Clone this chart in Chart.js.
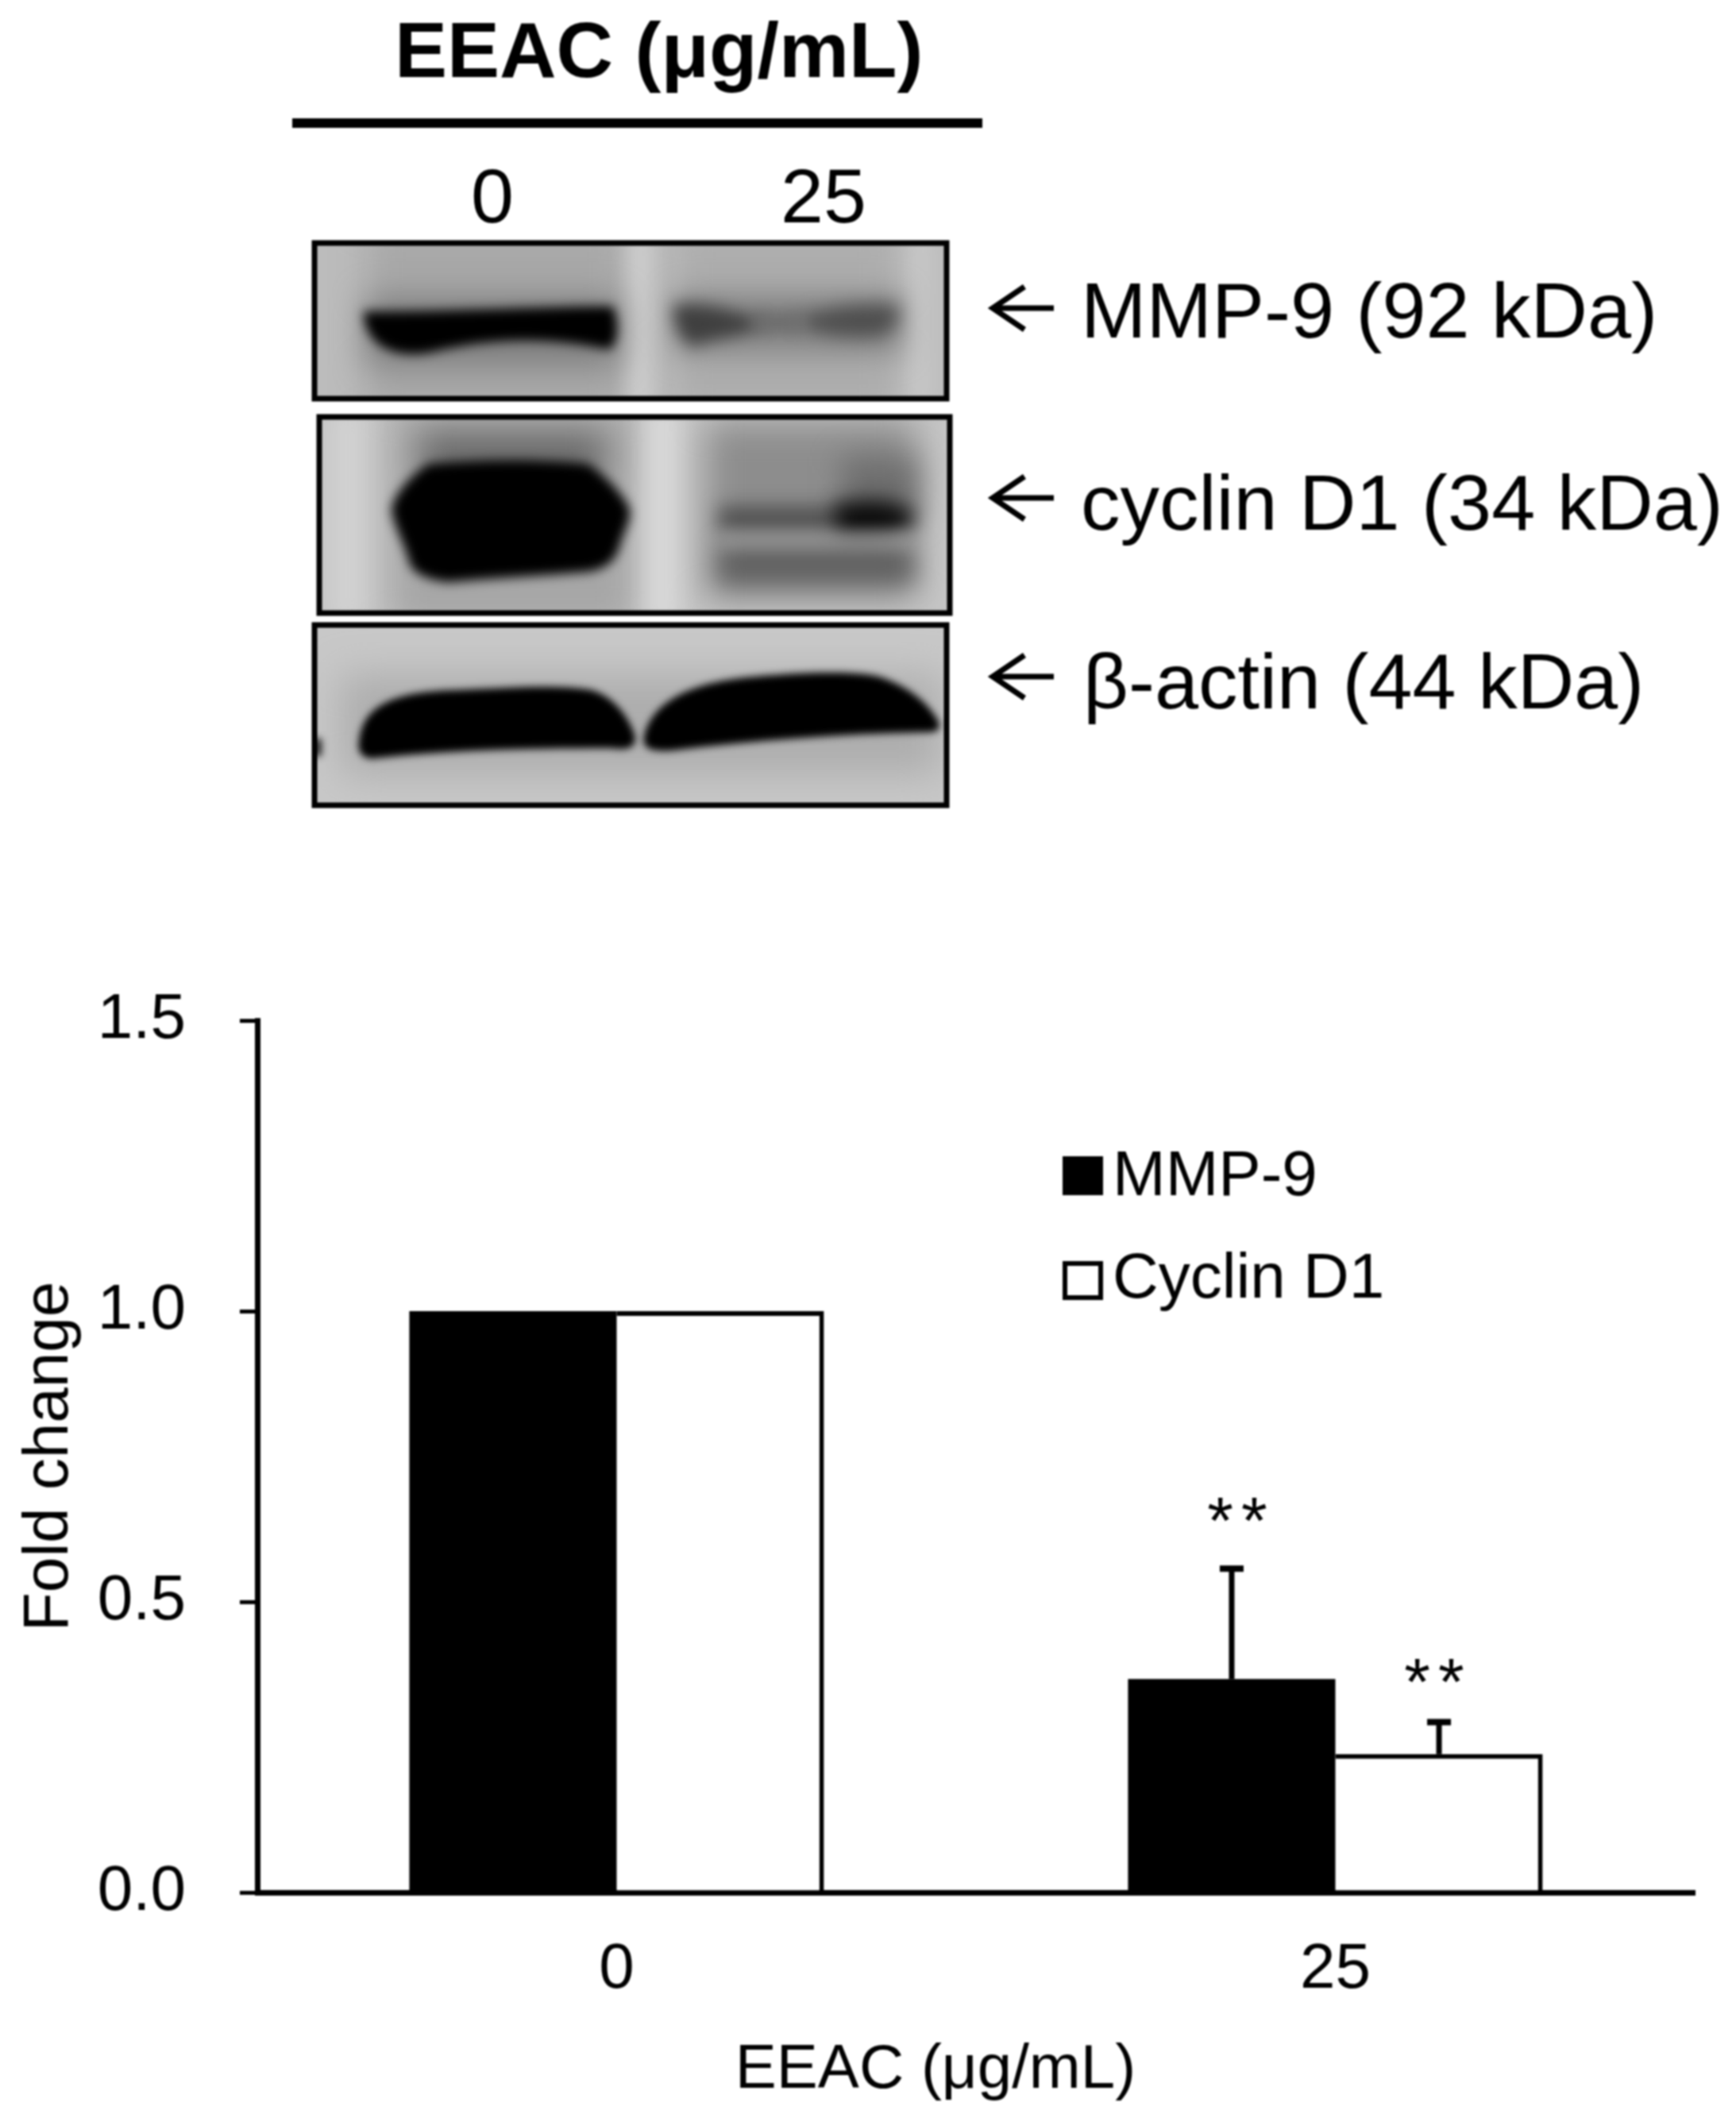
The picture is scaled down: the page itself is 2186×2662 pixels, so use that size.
<!DOCTYPE html>
<html>
<head>
<meta charset="utf-8">
<title>EEAC fold change</title>
<script src="https://cdn.jsdelivr.net/npm/chart.js@4"></script>
<style>
  html, body { margin: 0; padding: 0; background: #fff; }
  body { position: relative; width: 2186px; height: 2662px; overflow: hidden; font-family: "Liberation Sans", Arial, sans-serif; color: #000; filter: blur(0.8px); }
  canvas { position: absolute; left: 0; display: block; }
  #blot { top: 0; }
  #chartBox { position: absolute; left: 0; top: 1200px; width: 2186px; height: 1462px; }
  .lbl { position: absolute; line-height: 1; white-space: nowrap; }
  .title { font-size: 99px; font-weight: bold; left: 497px; top: 13px; }
  .dose { font-size: 97px; top: 198px; transform: translateX(-50%); }
  .prot { font-size: 99px; left: 1361px; }
</style>
</head>
<body>
<canvas id="blot" width="2186" height="1100"></canvas>
<div class="lbl title">EEAC (μg/mL)</div>
<div class="lbl dose" style="left:620px">0</div>
<div class="lbl dose" style="left:1037px">25</div>
<div class="lbl prot" style="top:341px">MMP-9 (92 kDa)</div>
<div class="lbl prot" style="top:583px">cyclin D1 (34 kDa)</div>
<div class="lbl prot" style="top:808px;left:1364px">β-actin (44 kDa)</div>
<div id="chartBox"><canvas id="foldChart" width="2186" height="1462"></canvas></div>

<script>
// chart values
var categories = ['0', '25'];
var mmpValues = [1.0, 0.367];
var cyclinValues = [1.0, 0.238];
var mmpErrors = [0, 0.19];
var cyclinErrors = [0, 0.055];
var yTickLabels = ['0.0', '0.5', '1.0', '1.5'];
var seriesNames = ['MMP-9', 'Cyclin D1'];
var xAxisTitle = 'EEAC (μg/mL)';
var yAxisTitle = 'Fold change';
var sigMark = '**';

/* ---------- Western blot panels (picture only, no data) ---------- */
function drawBlot() {
  var c = document.getElementById('blot').getContext('2d');

  function blob(blur, color, pts) {
    c.save();
    c.filter = 'blur(' + blur + 'px)';
    c.fillStyle = color;
    c.beginPath();
    c.moveTo(pts[0][0], pts[0][1]);
    for (var i = 1; i < pts.length; i++) {
      var p = pts[i];
      if (p.length === 6) c.bezierCurveTo(p[0], p[1], p[2], p[3], p[4], p[5]);
      else c.lineTo(p[0], p[1]);
    }
    c.closePath();
    c.fill();
    c.restore();
  }
  function rect(blur, color, x, y, w, h) {
    blob(blur, color, [[x, y], [x + w, y], [x + w, y + h], [x, y + h]]);
  }
  function panel(x0, y0, x1, y1, paint) {
    c.save();
    c.beginPath();
    c.rect(x0, y0, x1 - x0, y1 - y0);
    c.clip();
    paint();
    c.restore();
    c.strokeStyle = '#000';
    c.lineWidth = 7;
    c.strokeRect(x0 + 3, y0 + 3, x1 - x0 - 6, y1 - y0 - 6);
  }

  // MMP-9
  panel(393, 303, 1195, 505, function () {
    rect(0, '#bcbcbc', 393, 303, 802, 202);
    rect(22, '#a8a8a8', 460, 280, 330, 250);
    rect(22, '#adadad', 850, 280, 280, 250);
    rect(12, '#cfcfcf', 792, 290, 28, 230);
    rect(14, '#c8c8c8', 1145, 290, 30, 230);
    rect(20, '#7e7e7e', 462, 375, 318, 85);
    rect(18, '#858585', 850, 370, 285, 75);
    blob(7, '#000', [[458, 392], [540, 394, 680, 386, 772, 386], [780, 410, 778, 430, 768, 440],
      [690, 424, 620, 424, 540, 444], [490, 452, 458, 430, 458, 392]]);
    blob(10, '#3f3f3f', [[848, 384], [900, 380, 930, 396, 965, 404], [950, 424, 900, 424, 872, 436], [855, 425, 848, 410, 848, 384]]);
    blob(11, '#4e4e4e', [[1000, 402], [1060, 380, 1100, 384, 1130, 384], [1134, 412, 1122, 424, 1090, 424], [1050, 424, 1020, 420, 1000, 402]]);
    rect(10, '#6a6a6a', 950, 394, 60, 24);
  });

  // cyclin D1
  panel(399, 522, 1199, 775, function () {
    rect(0, '#c6c6c6', 399, 522, 800, 253);
    rect(22, '#a6a6a6', 490, 510, 310, 280);
    rect(14, '#d8d8d8', 812, 510, 46, 280);
    rect(16, '#d4d4d4', 420, 510, 36, 280);
    rect(22, '#8d8d8d', 888, 530, 265, 225);
    rect(20, '#6a6a6a', 530, 545, 230, 60);
    rect(18, '#6e6e6e', 1060, 575, 95, 80);
    blob(7, '#000', [[540, 584], [610, 578, 680, 578, 740, 584], [765, 600, 790, 630, 793, 642],
      [795, 655, 785, 670, 781, 685], [776, 705, 765, 716, 740, 720], [680, 725, 620, 728, 564, 733],
      [535, 730, 520, 720, 516, 710], [512, 690, 495, 660, 493, 642], [495, 625, 515, 600, 540, 584]]);
    rect(12, '#4e4e4e', 905, 638, 165, 30);
    blob(12, '#0c0c0c', [[1050, 636], [1100, 622, 1145, 632, 1152, 650], [1152, 670, 1120, 678, 1055, 672]]);
    rect(15, '#5f5f5f', 905, 690, 245, 44);
    rect(10, '#a0a0a0', 905, 674, 245, 10);
  });

  // beta-actin
  panel(393, 784, 1195, 1017, function () {
    rect(0, '#c8c8c8', 393, 784, 802, 233);
    rect(24, '#adadad', 430, 850, 755, 125);
    blob(5, '#000', [[452, 935], [456, 892, 488, 871, 575, 869], [650, 866, 700, 862, 745, 869],
      [775, 878, 792, 905, 799, 925], [803, 942, 790, 945, 770, 942], [650, 942, 560, 945, 469, 955],
      [455, 955, 450, 945, 452, 935]]);
    blob(5, '#000', [[811, 928], [818, 895, 850, 860, 952, 852], [1020, 846, 1090, 844, 1115, 855],
      [1150, 868, 1172, 890, 1182, 909], [1186, 922, 1175, 922, 1164, 922], [1060, 924, 950, 932, 846, 945],
      [820, 947, 808, 942, 811, 928]]);
    rect(5, '#222', 393, 930, 12, 22);
  });

  // heading rule
  c.fillStyle = '#000';
  c.fillRect(368, 149, 869, 12);

  // arrows beside the panels
  [388, 627, 852].forEach(function (y) {
    c.strokeStyle = '#000';
    c.lineWidth = 7;
    c.beginPath();
    c.moveTo(1327, y);
    c.lineTo(1250, y);
    c.moveTo(1290, y - 27);
    c.lineTo(1250, y);
    c.lineTo(1290, y + 27);
    c.stroke();
  });
}
drawBlot();

/* ---------- Error bars, stars, legend and x title ---------- */
var chartFont = '"Liberation Sans", Arial, sans-serif';

var annotationsPlugin = {
  id: 'annotations',
  afterDatasetsDraw: function (chart) {
    var c = chart.ctx;
    var yScale = chart.scales.y;
    c.save();
    c.fillStyle = '#000';
    c.strokeStyle = '#000';

    // error bars, upward only, and the significance stars above them
    [mmpErrors, cyclinErrors].forEach(function (errs, ds) {
      var meta = chart.getDatasetMeta(ds);
      var values = chart.data.datasets[ds].data;
      errs.forEach(function (err, i) {
        if (!err) return;
        var x = meta.data[i].x;
        var yBar = yScale.getPixelForValue(values[i]);
        var yTop = yScale.getPixelForValue(values[i] + err);
        c.lineWidth = 7;
        c.beginPath();
        c.moveTo(x, yBar);
        c.lineTo(x, yTop);
        c.stroke();
        c.lineWidth = 8;
        c.beginPath();
        c.moveTo(x - 15, yTop);
        c.lineTo(x + 15, yTop);
        c.stroke();
        c.font = '84px ' + chartFont;
        c.textAlign = 'center';
        c.textBaseline = 'alphabetic';
        c.letterSpacing = '10px';
        c.fillText(sigMark, ds === 0 ? x + 12 : x - 1, yTop - (ds === 0 ? 31 : 22));
        c.letterSpacing = '0px';
      });
    });

    // legend
    c.textAlign = 'left';
    c.textBaseline = 'alphabetic';
    c.font = '80px ' + chartFont;
    var rows = [305, 434];
    seriesNames.forEach(function (name, i) {
      var y = rows[i];
      if (i === 0) {
        c.fillRect(1338, y - 49, 51, 49);
      } else {
        c.lineWidth = 6;
        c.strokeRect(1341, y - 43, 45, 43);
      }
      c.fillText(name, 1401, y);
    });

    // axis title sits left of the plot centre in the figure
    c.font = '78px ' + chartFont;
    c.textAlign = 'center';
    c.fillText(xAxisTitle, 1178, 1429);
    c.restore();
  }
};

/* ---------- Bar chart ---------- */
new Chart(document.getElementById('foldChart').getContext('2d'), {
  type: 'bar',
  data: {
    labels: categories,
    datasets: [{
      label: seriesNames[0],
      data: mmpValues,
      backgroundColor: '#000',
      borderWidth: 0
    }, {
      label: seriesNames[1],
      data: cyclinValues,
      backgroundColor: '#fff',
      borderColor: '#000',
      borderWidth: { top: 6, right: 6, bottom: 0, left: 0 }
    }]
  },
  options: {
    responsive: false,
    animation: false,
    layout: { padding: { top: 85, right: 52, bottom: 0, left: 0 } },
    datasets: { bar: { categoryPercentage: 0.577, barPercentage: 1 } },
    plugins: { legend: { display: false }, tooltip: { enabled: false } },
    scales: {
      x: {
        afterFit: function (s) { s.height = 279; },
        grid: { display: false, drawTicks: false },
        border: { color: '#000', width: 7 },
        ticks: { color: '#000', padding: 50, maxRotation: 0, font: { family: chartFont, size: 80 } }
      },
      y: {
        min: 0,
        max: 1.5,
        afterFit: function (s) {
          s.width = 324;
          // big tick padding would otherwise push the plot top down
          s.paddingTop = 0;
          s.paddingBottom = 0;
        },
        grid: { drawOnChartArea: false, color: '#000', lineWidth: 5, tickLength: 22 },
        border: { color: '#000', width: 7 },
        title: {
          display: true,
          text: yAxisTitle,
          color: '#000',
          padding: { top: 15, bottom: 0 },
          font: { family: chartFont, size: 80 }
        },
        ticks: {
          stepSize: 0.5,
          color: '#000',
          padding: 68,
          font: { family: chartFont, size: 80 },
          callback: function (v, i) { return yTickLabels[i]; }
        }
      }
    }
  },
  plugins: [annotationsPlugin]
});
</script>
</body>
</html>
